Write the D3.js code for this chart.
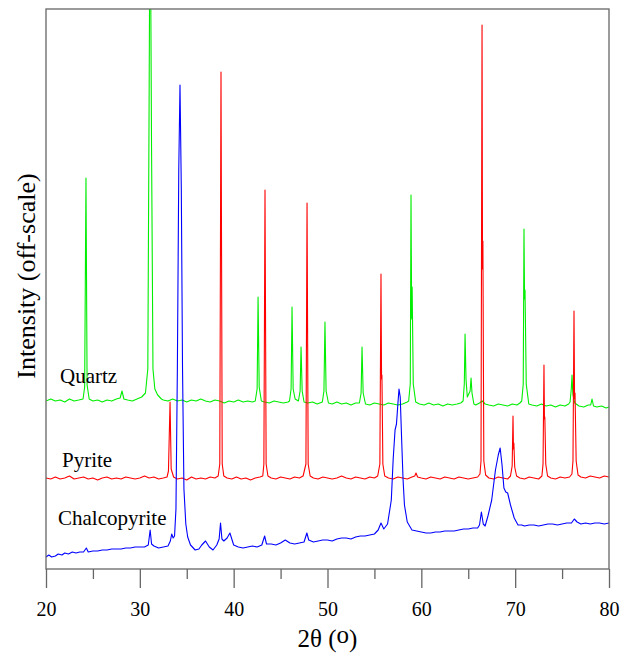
<!DOCTYPE html>
<html><head><meta charset="utf-8">
<script src="https://cdn.jsdelivr.net/npm/d3@7"></script>
<style>body{margin:0;background:#fff}svg{display:block}text{font-family:'Liberation Serif','Times New Roman',serif}</style>
</head><body><div id="chart"></div>
<script>
// x ticks
const majorTicks = [20, 30, 40, 50, 60, 70, 80];
const minorTicks = [25, 35, 45, 55, 65, 75];
const seriesNames = ["Quartz", "Pyrite", "Chalcopyrite"];
const seriesColors = ["#00ee00", "#ff0000", "#0000ff"];

// [2θ, intensity (offset, arbitrary units)]
const quartz = [
[20.0,168],[20.5,170],[21.0,168],[21.5,169],[22.0,167],[22.5,170],[23.0,168],[23.5,169],
[23.95,170],[24.12,182],[24.26,391],[24.38,184],[24.6,170],
[25.0,168],[25.5,169],[26.0,167],[26.5,169],[27.0,168],[27.5,170],
[27.9,171],[28.1,178],[28.3,170],
[28.7,169],[29.2,168],[29.7,170],[30.2,172],[30.6,176],[30.85,200],[30.98,450],[31.05,600],[31.15,600],[31.25,420],[31.4,200],[31.6,180],[31.9,174],[32.3,170],
[32.5,169],[33,168],[33.5,170],[34,168],[34.5,169],[35,167],[35.5,169],[36,168],[36.5,170],[37,168],[37.5,167],[38,169],[38.5,168],[39,166],[39.5,168],[40,167],[40.5,169],[41,167],[41.5,168],[42,167],
[42.3,168],[42.5,180],[42.6,272],[42.72,182],[42.95,168],
[43.3,167],[43.8,166],[44.3,168],[44.8,167],[45.3,166],[45.8,167],
[45.95,168],[46.12,180],[46.22,262],[46.34,180],[46.55,170],
[46.9,168],[47.08,178],[47.18,222],[47.3,178],[47.5,167],
[47.9,166],[48.4,167],[48.9,165],
[49.45,167],[49.62,178],[49.73,247],[49.85,178],[50.1,166],
[50.5,165],[51,167],[51.5,165],[52,166],[52.5,164],[53,166],
[53.4,166],[53.58,176],[53.68,222],[53.8,176],[54.05,165],
[54.5,164],[55,166],[55.5,165],[56,164],[56.5,166],[57,165],[57.5,164],[58,165],[58.5,167],
[58.65,168],[58.82,185],[58.9,374],[58.97,250],[59.02,282],[59.14,185],[59.4,167],
[59.8,165],[60.3,164],[60.8,166],[61.3,164],[61.8,165],[62.3,163],[62.8,165],[63.3,164],[63.8,165],[64.2,166],
[64.45,168],[64.58,185],[64.66,235],[64.76,190],[64.9,172],[65.2,178],[65.3,191],[65.4,176],[65.6,165],
[65.8,164],[66.2,166],[66.5,168],[66.8,165],[67.2,164],[67.7,163],[68.2,165],[68.7,164],[69.2,163],[69.7,165],[70.2,164],[70.5,166],
[70.7,168],[70.86,185],[70.94,340],[71.0,270],[71.05,279],[71.18,185],[71.45,165],
[71.8,164],[72.3,163],[72.8,165],[73.3,163],[73.8,164],[74.3,162],[74.8,164],[75.3,163],[75.7,165],
[75.85,167],[75.98,180],[76.06,194],[76.12,180],[76.16,174],[76.35,166],
[76.8,163],[77.3,162],[77.8,164],
[78.05,164],[78.19,170],[78.35,163],
[78.7,162],[79.2,163],[79.7,161],[80,162]
];

const pyrite = [
[20,91],[20.5,90],[21,92],[21.5,90],[22,91],[22.5,93],[23,90],[23.5,91],[24,92],[24.5,90],[25,91],[25.5,89],[26,91],[26.5,92],[27,90],[27.5,91],[28,90],[28.5,92],[29,91],[29.5,90],[30,91],[30.5,93],[31,91],[31.5,92],[32,90],[32.5,91],[32.9,92],
[33.05,98],[33.22,167],[33.34,100],[33.6,92],
[34,90],[34.5,91],[35,89],[35.5,92],[36,90],[36.5,91],[37,90],[37.5,92],[38,91],[38.35,93],
[38.52,105],[38.65,497],[38.78,105],[38.95,93],
[39.3,91],[39.8,90],[40.3,92],[40.8,90],[41.3,91],[41.8,89],[42.3,91],[42.8,92],[43.1,93],
[43.22,105],[43.34,379],[43.46,105],[43.65,93],
[44,91],[44.5,90],[45,92],[45.5,91],[46,90],[46.5,92],[47,91],[47.4,93],
[47.7,105],[47.82,366],[47.94,105],[48.15,93],
[48.5,91],[49,90],[49.5,92],[50,91],[50.5,90],[51,91],[51.5,93],[52,91],[52.5,90],[53,92],[53.5,91],[54,90],[54.5,92],[55,91],[55.35,93],
[55.58,105],[55.7,295],[55.76,190],[55.8,194],[55.9,105],[56.1,93],
[56.5,91],[57,90],[57.5,92],[58,91],[58.5,90],[59,92],[59.3,93],[59.43,96],[59.6,92],[60,91],[60.5,90],[61,92],[61.5,91],[62,90],[62.5,92],[63,91],[63.5,90],[64,92],[64.5,91],[65,90],[65.5,91],[66,92],[66.25,95],
[66.36,108],[66.47,544],[66.52,300],[66.56,328],[66.66,108],[66.85,94],
[67.2,91],[67.7,90],[68.2,92],[68.7,91],[69.2,90],[69.5,93],
[69.68,103],[69.77,153],[69.82,120],[69.86,126],[69.95,102],[70.15,93],
[70.5,91],[71,90],[71.5,92],[72,91],[72.5,90],[72.85,93],
[72.97,105],[73.07,204],[73.12,150],[73.16,152],[73.26,105],[73.45,93],
[73.8,91],[74.3,90],[74.8,92],[75.3,91],[75.8,92],[76.05,95],
[76.16,108],[76.27,258],[76.33,170],[76.38,176],[76.5,108],[76.7,94],
[77,92],[77.5,91],[78,93],[78.5,92],[79,91],[79.5,93],[80,92]
];

const chalcopyrite = [
[20,12],[20.3,14],[20.6,12],[21,13],[21.3,15],[21.7,14],[22,16],[22.4,15],[22.8,17],[23.2,16],[23.6,17],[24,17],[24.3,21],[24.5,17],[25,18],[25.5,18],[26,19],[26.5,19],[27,20],[27.5,20],[28,20],[28.5,21],[29,21],[29.5,22],[30,22],[30.5,22],[30.9,24],[31.1,39],[31.25,25],[31.5,23],[32,21],[32.5,22],[33,23],[33.25,28],[33.4,35],[33.55,31],[33.7,33],[33.85,60],[34.0,200],[34.15,400],[34.28,484],[34.42,380],[34.55,200],[34.7,80],[34.9,45],[35.1,32],[35.4,24],[35.9,19],[36.3,20],[36.6,24],[37.0,28],[37.4,22],[37.8,19],[38.2,24],[38.45,30],[38.6,46],[38.75,30],[38.95,28],[39.3,31],[39.6,36],[39.8,30],[40,24],[40.5,22],[41,21],[41.5,22],[42,23],[42.5,22],[43,24],[43.3,33],[43.5,25],[44,25],[44.5,24],[45,26],[45.5,29],[46,26],[46.5,25],[47,26],[47.5,27],[47.8,36],[48,29],[48.5,27],[49,28],[49.5,29],[50,29],[50.5,28],[51,30],[51.5,31],[52,31],[52.5,30],[53,32],[53.5,33],[54,33],[54.5,34],[55,35],[55.4,39],[55.7,46],[56,40],[56.4,45],[56.8,69],[57.0,110],[57.2,139],[57.35,145],[57.5,165],[57.62,180],[57.75,172],[57.9,130],[58.05,90],[58.2,64],[58.5,47],[59,39],[59.5,38],[60,37],[60.5,36],[61,36],[61.5,37],[62,37],[62.5,38],[63,38],[63.5,38],[64,39],[64.5,40],[65,40],[65.5,41],[66,41],[66.2,44],[66.4,57],[66.6,45],[66.8,43],[67.1,53],[67.5,69],[67.9,99],[68.2,114],[68.4,121],[68.6,104],[68.8,81],[69.0,77],[69.2,76],[69.5,64],[69.9,51],[70.3,44],[70.7,44],[71,43],[71.5,44],[72,44],[72.5,43],[73,44],[73.5,45],[74,45],[74.5,44],[75,45],[75.5,46],[76,46],[76.3,50],[76.6,47],[77,45],[77.5,46],[78,45],[78.5,46],[79,46],[79.5,45],[80,46]
];

const seriesData = [quartz, pyrite, chalcopyrite];
const labelPos = [[60, 383], [62, 467], [58, 525]];

const W = 630, H = 657;
const mLeft = 46, mRight = 609, mTop = 9, mBottom = 569;
const FONT = "'Liberation Serif','Times New Roman',serif";
const svg = d3.select("#chart").append("svg").attr("width", W).attr("height", H);

const x = d3.scaleLinear().domain([20, 80]).range([mLeft, mRight]);
const y = d3.scaleLinear().domain([0, 560]).range([mBottom, mTop]);

svg.append("defs").append("clipPath").attr("id", "clip")
  .append("rect").attr("x", mLeft).attr("y", mTop).attr("width", mRight - mLeft).attr("height", mBottom - mTop);

const line = d3.line().x(d => x(d[0])).y(d => y(d[1]));
const g = svg.append("g").attr("clip-path", "url(#clip)");
seriesData.forEach((s, i) => {
  g.append("path").datum(s).attr("d", line)
    .attr("fill", "none").attr("stroke", seriesColors[i]).attr("stroke-width", 1.1)
    .attr("stroke-linejoin", "round");
});

// frame
svg.append("rect").attr("x", mLeft).attr("y", mTop).attr("width", mRight - mLeft).attr("height", mBottom - mTop)
  .attr("fill", "none").attr("stroke", "#666").attr("stroke-width", 1.3);

// axis
const ax = svg.append("g").attr("transform", `translate(0,${mBottom})`)
  .call(d3.axisBottom(x).tickValues(majorTicks).tickSize(19).tickPadding(28).tickFormat(d3.format("d")));
ax.select(".domain").remove();
ax.selectAll(".tick line").attr("stroke", "#666").attr("stroke-width", 1.3);
ax.selectAll(".tick text").attr("font-family", FONT).attr("font-size", 20).attr("fill", "#000").attr("dy", 0);
const axm = svg.append("g").attr("transform", `translate(0,${mBottom})`)
  .call(d3.axisBottom(x).tickValues(minorTicks).tickSize(10).tickFormat(""));
axm.select(".domain").remove();
axm.selectAll(".tick line").attr("stroke", "#666").attr("stroke-width", 1.3);

// series labels
seriesNames.forEach((n, i) => {
  svg.append("text").attr("x", labelPos[i][0]).attr("y", labelPos[i][1])
    .attr("font-family", FONT).attr("font-size", 21).attr("fill", "#000").text(n);
});

// x title
const xt = svg.append("text").attr("x", (mLeft + mRight) / 2).attr("y", 647).attr("text-anchor", "middle")
  .attr("font-family", FONT).attr("font-size", 25).attr("fill", "#000");
xt.append("tspan").text("2θ (");
xt.append("tspan").attr("dy", -4).text("o");
xt.append("tspan").attr("dy", 4).text(")");

// y title
svg.append("text").attr("transform", `translate(35,${276}) rotate(-90)`).attr("text-anchor", "middle")
  .attr("font-family", FONT).attr("font-size", 26).attr("fill", "#000")
  .text("Intensity (off-scale)");
</script></body></html>
